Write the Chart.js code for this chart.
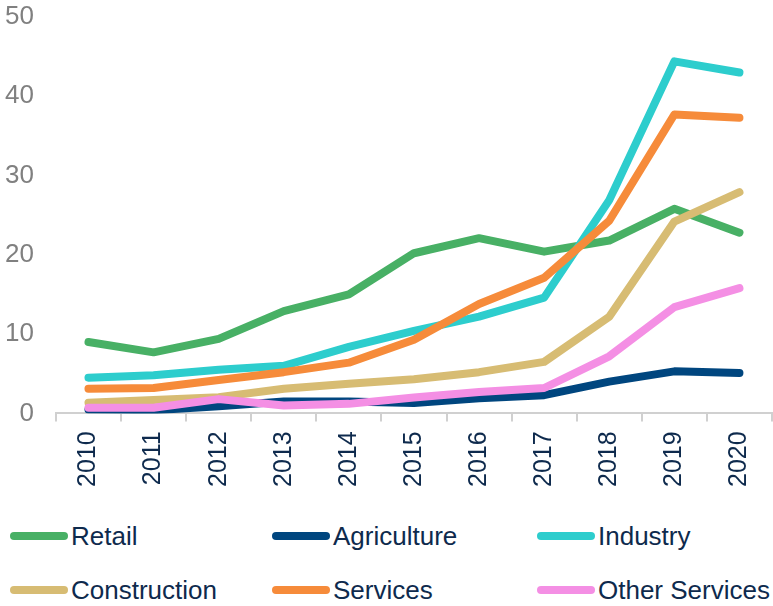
<!DOCTYPE html>
<html>
<head>
<meta charset="utf-8">
<script src="https://cdn.jsdelivr.net/npm/chart.js@4/dist/chart.umd.min.js"></script>
<style>
  body { margin:0; background:#fff; width:773px; height:606px; overflow:hidden; font-family:"Liberation Sans", Arial, sans-serif; }
  #wrap { position:absolute; left:0; top:0; width:773px; height:505px; }
  #legend { position:absolute; left:0; top:515px; width:773px; }
  .item { position:absolute; display:flex; align-items:center; font-size:26px; color:#0e2a4d; white-space:nowrap; }
  .item .ln { display:inline-block; width:58px; height:8px; border-radius:4px; margin-right:3px; }
</style>
</head>
<body>
<div id="wrap"><canvas id="chart"></canvas></div>
<div id="legend"></div>
<script>
const years = ["2010","2011","2012","2013","2014","2015","2016","2017","2018","2019","2020"];

const retail        = [9.0, 7.7, 9.4, 12.9, 15.0, 20.2, 22.1, 20.4, 21.8, 25.8, 22.8];
const agriculture   = [0.5, 0.4, 0.9, 1.5, 1.5, 1.3, 1.9, 2.3, 4.0, 5.3, 5.1];
const industry      = [4.5, 4.8, 5.5, 6.0, 8.4, 10.4, 12.2, 14.6, 26.9, 44.4, 43.0];
const construction  = [1.35, 1.7, 2.05, 3.1, 3.75, 4.3, 5.2, 6.5, 12.2, 24.2, 27.9];
const services      = [3.1, 3.2, 4.2, 5.2, 6.4, 9.3, 13.8, 17.1, 24.3, 37.7, 37.3];
const otherServices = [0.7, 0.7, 1.8, 1.0, 1.2, 2.0, 2.7, 3.2, 7.2, 13.4, 15.8];

const yTicks = [0, 10, 20, 30, 40, 50];

const seriesNames  = ["Retail","Agriculture","Industry","Construction","Services","Other Services"];
const seriesColors = ["#48b065","#00467f","#2dcdcd","#d7bc73","#f68b3a","#f48fe4"];
const seriesData   = [retail, agriculture, industry, construction, services, otherServices];

// excel draws later series on top, chart.js draws low "order" on top
const datasets = seriesNames.map((name, i) => ({
  label: name,
  data: seriesData[i],
  borderColor: seriesColors[i],
  backgroundColor: seriesColors[i],
  borderWidth: 8,
  borderCapStyle: 'round',
  borderJoinStyle: 'round',
  pointRadius: 0,
  tension: 0,
  fill: false,
  order: seriesNames.length - 1 - i
}));

const chart = new Chart(document.getElementById('chart').getContext('2d'), {
  type: 'line',
  data: { labels: years, datasets: datasets },
  options: {
    responsive: true,
    maintainAspectRatio: false,
    animation: false,
    layout: { padding: { left: -17, right: 1, top: 0, bottom: 8 } },
    plugins: { legend: { display: false }, tooltip: { enabled: false } },
    scales: {
      x: {
        offset: true,
        afterFit: axis => { axis.paddingLeft = 0; axis.paddingRight = 0; },
        grid: { offset: true, drawOnChartArea: false, drawTicks: true, tickLength: 8, color: '#d0d0d0', lineWidth: 2 },
        border: { display: true, color: '#d0d0d0', width: 2 },
        ticks: { color: '#0e2a4d', font: { family: '"Liberation Sans", Arial', size: 25 }, minRotation: 90, maxRotation: 90, padding: 10, autoSkip: false }
      },
      y: {
        min: 0, max: 50,
        afterBuildTicks: axis => { axis.ticks = yTicks.map(v => ({ value: v })); },
        afterFit: axis => { axis.paddingTop = 17; axis.paddingBottom = 0; },
        grid: { display: false, drawTicks: false },
        border: { display: false },
        ticks: { color: '#808080', font: { family: '"Liberation Sans", Arial', size: 26 }, padding: 22 }
      }
    }
  }
});

// legend, 3 columns x 2 rows like the original
const legendCols = [10, 272, 537];
const legendRows = [21, 75];
const legend = document.getElementById('legend');
chart.data.datasets.forEach((ds, i) => {
  const el = document.createElement('div');
  el.className = 'item';
  el.style.left = legendCols[i % 3] + 'px';
  el.style.top = (legendRows[Math.floor(i / 3)] - 15) + 'px';
  el.style.height = '30px';
  el.innerHTML = '<span class="ln" style="background:' + ds.borderColor + '"></span><span>' + ds.label + '</span>';
  legend.appendChild(el);
});
</script>
</body>
</html>
